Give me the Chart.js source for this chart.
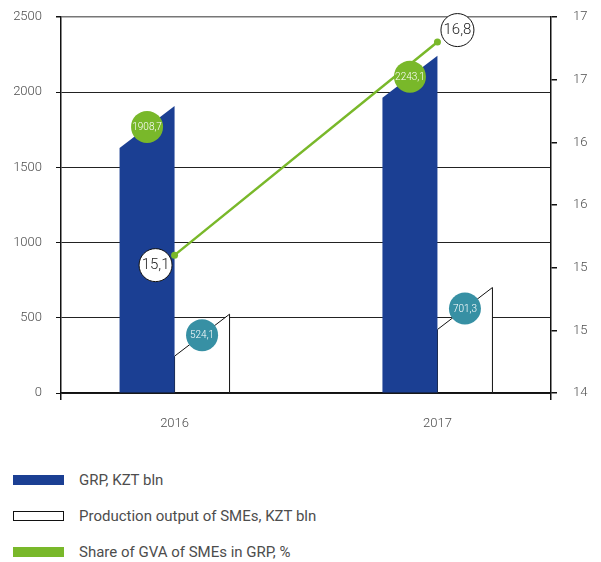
<!DOCTYPE html>
<html>
<head>
<meta charset="utf-8">
<script src="https://cdn.jsdelivr.net/npm/chart.js@4"></script>
<style>
  body { margin: 0; background: #fff; font-family: Roboto, 'Noto Sans', sans-serif; }
  .wrap { position: relative; width: 601px; height: 562px; }
  .plot { position: absolute; left: 0; top: 0; width: 601px; height: 445px; }
  .legend { position: absolute; left: 13px; top: 462px; }
  .legend .row { display: flex; align-items: center; height: 36px; }
  .legend .sw { width: 51px; height: 10px; box-sizing: border-box; margin-right: 15px; }
  .legend span { font-size: 15px; color: #4d4d4d; }
</style>
</head>
<body>
<div class="wrap">
  <div class="plot"><canvas id="chartGrpSme"></canvas></div>
  <div class="legend" id="legendGrpSme"></div>
</div>
<script>
// dados do grafico
const years = ['2016', '2017'];
const grpValues = [1908.7, 2243.1];          // GRP, KZT bln
const smeOutputValues = [524.1, 701.3];      // Production output of SMEs, KZT bln
const smeShareValues = [15.1, 16.8];         // Share of GVA of SMEs in GRP, %
const seriesNames = ['GRP, KZT bln', 'Production output of SMEs, KZT bln', 'Share of GVA of SMEs in GRP, %'];
const leftTicks = [0, 500, 1000, 1500, 2000, 2500];

const BLUE = '#1b3f93';
const GREEN = '#79b82a';
const TEAL = '#3790a4';
const TEXT = '#4d4d4d';
const SLANT = 42; // queda do topo inclinado das barras, em px

const fmt = (v) => String(v).replace('.', ',');
const pts = (arr) => arr.map((v, i) => ({ x: i, y: v }));

// barras com topo inclinado: desenha o poligono e pula o retangulo padrao
const slantedBars = {
  id: 'slantedBars',
  beforeDatasetDraw(chart, args) {
    if (args.meta.type !== 'bar') return;
    const ds = chart.data.datasets[args.index];
    const c = chart.ctx;
    c.save();
    args.meta.data.forEach((bar) => {
      const { x, y, base, width } = bar.getProps(['x', 'y', 'base', 'width'], true);
      const l = x - width / 2, r = x + width / 2;
      c.beginPath();
      c.moveTo(l, base);
      c.lineTo(l, y + SLANT);
      c.lineTo(r, y);
      c.lineTo(r, base);
      c.closePath();
      c.fillStyle = ds.fillColor;
      c.fill();
      if (ds.outline) {
        c.strokeStyle = '#111';
        c.lineWidth = 1;
        c.stroke();
      }
    });
    c.restore();
    return false;
  },
};

// bolinhas com os valores
const valueBubbles = {
  id: 'valueBubbles',
  afterDatasetsDraw(chart) {
    const c = chart.ctx;
    const bubble = (x, y, r, fill, stroke, text, font, color) => {
      c.beginPath();
      c.arc(x, y, r, 0, Math.PI * 2);
      c.fillStyle = fill;
      c.fill();
      if (stroke) { c.strokeStyle = stroke; c.lineWidth = 1; c.stroke(); }
      c.fillStyle = color;
      c.font = font;
      c.textAlign = 'center';
      c.textBaseline = 'middle';
      c.fillText(text, x, y + 0.5);
    };
    c.save();
    chart.data.datasets.forEach((ds, di) => {
      const meta = chart.getDatasetMeta(di);
      meta.data.forEach((el, i) => {
        const v = ds.data[i].y;
        if (meta.type === 'bar') {
          bubble(el.x, el.y + SLANT / 2, 16, di === 0 ? GREEN : TEAL, null, fmt(v),
            '300 10px Roboto, sans-serif', '#fff');
        } else {
          const dx = i === 0 ? -19 : 20;
          const dy = i === 0 ? 10 : -12;
          bubble(el.x + dx, el.y + dy, 16.5, '#fff', '#111', fmt(v),
            '300 15px Roboto, sans-serif', '#222');
        }
      });
    });
    c.restore();
  },
};

const legendEl = document.getElementById('legendGrpSme');
const swatches = [
  `background:${BLUE}`,
  'background:#fff;border:1px solid #111',
  `background:${GREEN}`,
];
seriesNames.forEach((name, i) => {
  const row = document.createElement('div');
  row.className = 'row';
  row.innerHTML = `<div class="sw" style="${swatches[i]}"></div><span>${name}</span>`;
  legendEl.appendChild(row);
});

// largura fixa do eixo e sem folga extra do padding dos ticks
const fixVertical = (w) => (s) => { s.width = w; s.paddingTop = 8; s.paddingBottom = 8; };

new Chart(document.getElementById('chartGrpSme'), {
  type: 'bar',
  data: {
    datasets: [
      { label: seriesNames[0], data: pts(grpValues), fillColor: BLUE, backgroundColor: BLUE,
        barThickness: 55, yAxisID: 'y', order: 1 },
      { label: seriesNames[1], data: pts(smeOutputValues), fillColor: '#fff', outline: true,
        backgroundColor: '#fff', barThickness: 55, yAxisID: 'y', order: 1 },
      { type: 'line', label: seriesNames[2], data: pts(smeShareValues), yAxisID: 'y2', order: 0,
        borderColor: GREEN, borderWidth: 2.5, pointRadius: 3.5, pointBackgroundColor: GREEN,
        pointBorderWidth: 0, tension: 0 },
    ],
  },
  options: {
    responsive: true,
    maintainAspectRatio: false,
    animation: false,
    layout: { padding: { top: 17, left: 0, right: 0, bottom: 0 } },
    plugins: { legend: { display: false }, tooltip: { enabled: false } },
    scales: {
      x: {
        type: 'linear',
        offset: false,
        min: -0.432,
        max: 1.432,
        afterBuildTicks: (s) => { s.ticks = [s.min, 0, 1, s.max].map((v) => ({ value: v })); },
        afterFit: (s) => { s.height = 52; },
        grid: {
          offset: false,
          drawOnChartArea: false,
          tickLength: 7,
          tickColor: (ctx) => (ctx.tick && Number.isInteger(ctx.tick.value) ? 'transparent' : '#111'),
          lineWidth: 1.5,
        },
        border: { color: '#111', width: 1.5 },
        ticks: {
          autoSkip: false,
          maxRotation: 0,
          padding: 16,
          color: TEXT,
          font: { family: 'Roboto', size: 13, weight: 300 },
          callback: (v) => years[v] ?? '',
        },
      },
      y: {
        position: 'left',
        min: 0,
        max: 2500,
        afterBuildTicks: (s) => { s.ticks = leftTicks.map((v) => ({ value: v })); },
        afterFit: fixVertical(61),
        grid: {
          color: (ctx) => (ctx.tick && ctx.tick.value === 2500 ? '#777' : '#222'),
          lineWidth: (ctx) => (ctx.tick && ctx.tick.value === 2500 ? 1.5 : 1),
          tickLength: 5,
          tickColor: '#111',
        },
        border: { color: '#111', width: 1.5 },
        ticks: {
          padding: 14,
          color: TEXT,
          font: { family: 'Roboto', size: 13, weight: 300 },
          callback: (v) => String(v),
        },
      },
      y2: {
        position: 'right',
        min: 14,
        max: 17,
        afterFit: fixVertical(50),
        grid: { drawOnChartArea: false, tickLength: 6, tickColor: '#111', lineWidth: 1.5 },
        border: { color: '#111', width: 1.5 },
        ticks: {
          stepSize: 0.5,
          padding: 16,
          color: TEXT,
          font: { family: 'Roboto', size: 13, weight: 300 },
          callback: (v) => String(Math.round(v)),
        },
      },
    },
  },
  plugins: [slantedBars, valueBubbles],
});
</script>
</body>
</html>
